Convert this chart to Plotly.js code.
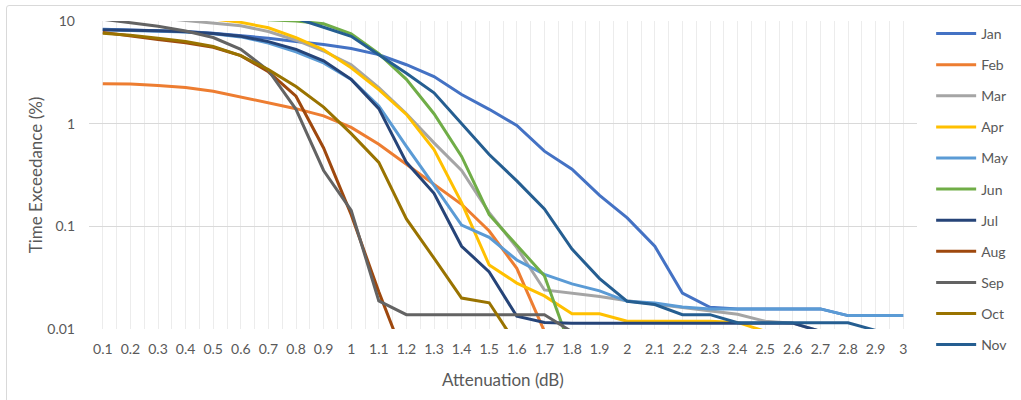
<!DOCTYPE html>
<html>
<head>
<meta charset="utf-8">
<script src="https://cdn.plot.ly/plotly-3.0.1.min.js"></script>
<style>
  html, body { margin: 0; padding: 0; background: #ffffff; }
  #wrap { position: relative; width: 1021px; height: 400px; overflow: hidden; }
  #chart { position: absolute; left: 0; top: 0; width: 1021px; height: 400px; }
  #frame { position: absolute; left: 6px; top: 5px; width: 1100px; height: 500px;
           border: 1px solid #d9d9d9; border-radius: 3px; pointer-events: none; }
</style>
</head>
<body>
<div id="wrap"><div id="chart"></div><div id="frame"></div></div>
<script>
// Category labels (Attenuation, dB)
const categories = ["0.1","0.2","0.3","0.4","0.5","0.6","0.7","0.8","0.9","1",
                    "1.1","1.2","1.3","1.4","1.5","1.6","1.7","1.8","1.9","2",
                    "2.1","2.2","2.3","2.4","2.5","2.6","2.7","2.8","2.9","3"];

// Time exceedance (%) per month
const jan = [8.3, 8.2, 8.1, 7.9, 7.6, 7.2, 6.8, 6.3, 5.9, 5.4, 4.7, 3.75, 2.88, 1.92, 1.38, 0.96, 0.54, 0.36, 0.2, 0.121, 0.064, 0.0224, 0.0163, 0.0157, 0.0157, 0.0157, 0.0157, 0.0135, 0.0135, 0.0135];
const feb = [2.45, 2.43, 2.36, 2.25, 2.07, 1.81, 1.58, 1.40, 1.19, 0.92, 0.63, 0.40, 0.257, 0.164, 0.09, 0.039, 0.0095, null, null, null, null, null, null, null, null, null, null, null, null, null];
const mar = [11.5, 11.2, 10.8, 10.1, 9.5, 9.0, 7.9, 6.5, 5.1, 3.75, 2.25, 1.25, 0.65, 0.35, 0.136, 0.062, 0.024, 0.0224, 0.0207, 0.0188, 0.0174, 0.0162, 0.015, 0.0139, 0.0119, 0.0114, 0.0095, null, null, null];
const apr = [13, 12.5, 12, 11.3, 10.4, 9.7, 8.6, 6.9, 5.25, 3.5, 2.15, 1.23, 0.56, 0.17, 0.042, 0.028, 0.021, 0.0141, 0.0141, 0.0119, 0.0119, 0.0119, 0.0119, 0.0116, 0.0095, null, null, null, null, null];
const may = [8.2, 8.1, 8.0, 7.8, 7.5, 7.0, 6.1, 5.0, 3.9, 2.7, 1.49, 0.6, 0.25, 0.103, 0.078, 0.047, 0.034, 0.0275, 0.0235, 0.0186, 0.0179, 0.0164, 0.0157, 0.0157, 0.0157, 0.0157, 0.0157, 0.0135, 0.0135, 0.0135];
const jun = [14, 13.5, 13, 12.5, 12, 11.5, 10.3, 10.0, 9.4, 7.5, 4.8, 2.7, 1.25, 0.48, 0.13, 0.066, 0.033, 0.006, null, null, null, null, null, null, null, null, null, null, null, null];
const jul = [8.2, 8.15, 8.05, 7.85, 7.55, 7.1, 6.3, 5.3, 4.1, 2.7, 1.4, 0.42, 0.21, 0.064, 0.036, 0.0133, 0.0116, 0.0114, 0.0114, 0.0114, 0.0114, 0.0114, 0.0114, 0.0114, 0.0114, 0.0114, 0.0095, null, null, null];
const aug = [7.75, 7.1, 6.6, 6.15, 5.55, 4.6, 3.2, 1.85, 0.58, 0.13, 0.023, 0.0047, null, null, null, null, null, null, null, null, null, null, null, null, null, null, null, null, null, null];
const sep = [10.4, 9.7, 8.9, 8.0, 6.9, 5.3, 3.3, 1.38, 0.35, 0.143, 0.0188, 0.0138, 0.0138, 0.0138, 0.0138, 0.0138, 0.0138, 0.0094, null, null, null, null, null, null, null, null, null, null, null, null];
const oct = [7.6, 7.25, 6.8, 6.3, 5.65, 4.6, 3.36, 2.3, 1.45, 0.8, 0.42, 0.118, 0.049, 0.02, 0.018, 0.007, null, null, null, null, null, null, null, null, null, null, null, null, null, null];
const nov = [12.5, 12.3, 12.1, 11.9, 11.7, 11.4, 11.1, 10.6, 8.7, 7.1, 4.7, 3.1, 2.0, 1.0, 0.5, 0.277, 0.148, 0.06, 0.031, 0.0186, 0.0173, 0.0138, 0.0138, 0.0115, 0.0115, 0.0115, 0.0115, 0.0115, 0.0097, null];

const seriesNames = ["Jan","Feb","Mar","Apr","May","Jun","Jul","Aug","Sep","Oct","Nov"];
const seriesValues = [jan, feb, mar, apr, may, jun, jul, aug, sep, oct, nov];
const seriesColors = ["#4472C4","#ED7D31","#A5A5A5","#FFC000","#5B9BD5","#70AD47",
                      "#264478","#9E480E","#636363","#997300","#255E91"];

const yTickVals = [0.01, 0.1, 1, 10];
const yTickText = ["0.01", "0.1", "1", "10"];

const xNum = categories.map(Number);
const FONT = "Lato, 'Open Sans', sans-serif";
const TXT = "#595959";

const traces = seriesNames.map((n, k) => ({
  type: "scatter",
  mode: "lines",
  name: n,
  legendgroup: n,
  x: xNum,
  y: seriesValues[k],
  line: { color: seriesColors[k], width: 3 },
  connectgaps: false,
  hoverinfo: "x+y+name"
}));

const layout = {
  width: 1021,
  height: 400,
  margin: { l: 89, r: 104, t: 21, b: 71 },
  paper_bgcolor: "rgba(0,0,0,0)",
  plot_bgcolor: "#ffffff",
  font: { family: FONT, size: 14, color: TXT },
  showlegend: true,
  legend: {
    xref: "container", yref: "container",
    x: 0.912, y: 0.955, xanchor: "left", yanchor: "top",
    traceorder: "grouped",
    tracegroupgap: 9.9,
    itemwidth: 40,
    maxheight: 390,
    bgcolor: "rgba(0,0,0,0)",
    font: { family: FONT, size: 14, color: TXT }
  },
  xaxis: {
    type: "linear",
    range: [0.05, 3.05],
    tickvals: xNum,
    ticktext: categories,
    showgrid: true,
    gridcolor: "#ececec",
    gridwidth: 1,
    minor: { tick0: 0.05, dtick: 0.1, showgrid: true, gridcolor: "#ececec", gridwidth: 1 },
    zeroline: false,
    showline: false,
    ticks: "",
    ticklabelstandoff: 10,
    tickfont: { family: FONT, size: 14, color: TXT },
    title: { text: "Attenuation (dB)", font: { family: FONT, size: 17, color: TXT }, standoff: 18 },
    fixedrange: true
  },
  yaxis: {
    type: "log",
    range: [-2, 1],
    tickvals: yTickVals,
    ticktext: yTickText,
    showgrid: true,
    gridcolor: "#d9d9d9",
    gridwidth: 1,
    zeroline: false,
    showline: false,
    ticks: "",
    ticklabelstandoff: 13,
    tickfont: { family: FONT, size: 14, color: TXT },
    title: { text: "Time Exceedance (%)", font: { family: FONT, size: 17, color: TXT }, standoff: 0 },
    fixedrange: true
  }
};

Plotly.newPlot("chart", traces, layout, { displayModeBar: false, staticPlot: true });
</script>
</body>
</html>
